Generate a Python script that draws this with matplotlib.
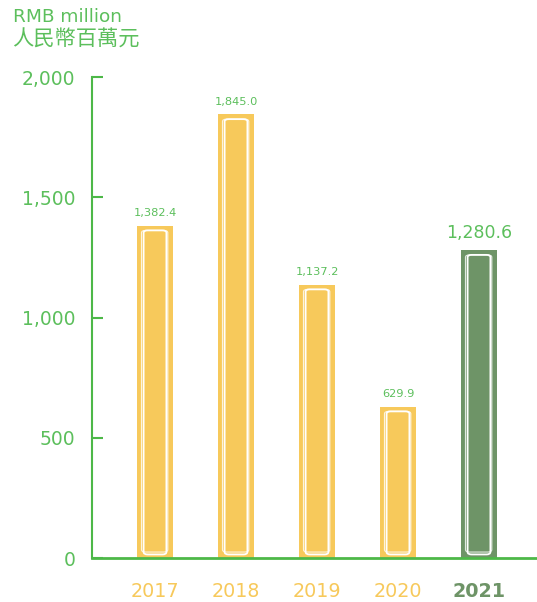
import matplotlib.pyplot as plt
from matplotlib.patches import FancyBboxPatch

years = ["2017", "2018", "2019", "2020", "2021"]
values = [1382.4, 1845.0, 1137.2, 629.9, 1280.6]
value_labels = ["1,382.4", "1,845.0", "1,137.2", "629.9", "1,280.6"]
yticks = [0, 500, 1000, 1500, 2000]
ytick_labels = ["0", "500", "1,000", "1,500", "2,000"]

yellow = "#F7C95B"
dark = "#6E9467"
green = "#4DB848"
label_green = "#5CBF5C"

plt.rcParams['font.family'] = ['DejaVu Sans']

fig = plt.figure(figsize=(5.37, 6.02), dpi=100)
ax = fig.add_axes([0.171, 0.073, 0.829, 0.799])

colors = [yellow] * 4 + [dark]
x = list(range(len(years)))
width = 0.44
bars = ax.bar(x, values, width=width, color=colors, zorder=2)

# white sketch-style outlines inside each bar
for b in bars:
    bx, bw, bh = b.get_x(), b.get_width(), b.get_height()
    ax.add_patch(FancyBboxPatch((bx + bw * 0.18, 15), bw * 0.64, bh - 35,
                                boxstyle="round,pad=0,rounding_size=0.05",
                                fill=False, ec="white", lw=1.3, zorder=3,
                                mutation_aspect=200))
    ax.add_patch(FancyBboxPatch((bx + bw * 0.12, 25), bw * 0.74, bh - 45,
                                boxstyle="round,pad=0,rounding_size=0.05",
                                fill=False, ec="white", lw=0.8, alpha=0.8, zorder=3,
                                mutation_aspect=200))

for i, (v, lab) in enumerate(zip(values, value_labels)):
    if i == 4:
        ax.text(i, v + 35, lab, ha="center", va="bottom", fontsize=12.5, color=label_green)
    else:
        ax.text(i, v + 30, lab, ha="center", va="bottom", fontsize=8.2, color=label_green)

ax.set_xlim(-0.78, 4.716)
ax.set_ylim(0, 2000)
ax.set_yticks(yticks)
ax.set_yticklabels(ytick_labels, fontsize=13.5, color=label_green)
ax.tick_params(axis="y", direction="in", length=8, width=1.5, color=green, pad=12)
ax.set_xticks(x)
ax.set_xticklabels(years, fontsize=13.8)
ax.tick_params(axis="x", length=0, pad=17)
for i, t in enumerate(ax.get_xticklabels()):
    t.set_color(colors[i])
    if i == 4:
        t.set_fontweight("bold")

for s in ["top", "right"]:
    ax.spines[s].set_visible(False)
ax.spines["left"].set_color(green)
ax.spines["bottom"].set_color(green)
ax.spines["left"].set_linewidth(1.5)
ax.spines["bottom"].set_linewidth(2)

fig.text(13 / 537, 1 - 17 / 602, "RMB million", fontsize=13.3, color=label_green, va="center")
fig.text(12 / 537, 1 - 40 / 602, "人民幣百萬元", fontsize=15.3, color=label_green, va="center",
         family=["Noto Sans CJK TC", "DejaVu Sans"])

fig.savefig("out.png", dpi=100)
